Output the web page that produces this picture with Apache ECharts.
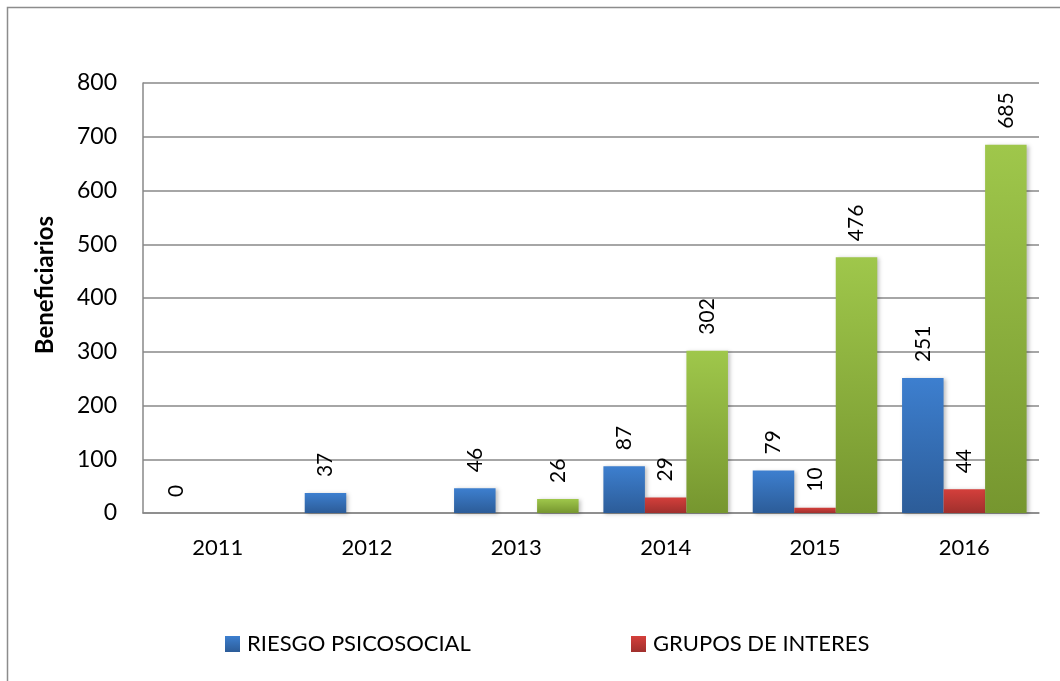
<!DOCTYPE html>
<html>
<head>
<meta charset="utf-8">
<script src="https://cdn.jsdelivr.net/npm/echarts@6/dist/echarts.min.js"></script>
<style>
  html, body { margin: 0; padding: 0; background: #fff; }
  #chart { width: 1060px; height: 681px; }
</style>
</head>
<body>
<div id="chart"></div>
<script>
// datos
var years = ['2011', '2012', '2013', '2014', '2015', '2016'];
var riesgo = [0, 37, 46, 87, 79, 251];
var grupos = [null, null, null, 29, 10, 44];
var tercera = [null, null, 26, 302, 476, 685];
var yTicks = [0, 100, 200, 300, 400, 500, 600, 700, 800];

var FONT = 'Lato, "Open Sans", sans-serif';

function grad(top, bottom) {
  return new echarts.graphic.LinearGradient(0, 0, 0, 1, [
    { offset: 0, color: top },
    { offset: 1, color: bottom }
  ]);
}

var chart = echarts.init(document.getElementById('chart'), null, { renderer: 'canvas' });

var labelCfg = {
  show: true,
  position: 'top',
  rotate: 90,
  align: 'left',
  verticalAlign: 'middle',
  distance: 16,
  fontFamily: FONT,
  fontSize: 21,
  color: '#000'
};

var shadow = {
  shadowBlur: 4,
  shadowColor: 'rgba(0,0,0,0.25)',
  shadowOffsetX: 2,
  shadowOffsetY: 1
};

var legendText = { fontFamily: FONT, fontSize: 22, color: '#000', padding: [0, 0, 0, 2] };

var option = {
  animation: false,
  textStyle: { fontFamily: FONT },
  graphic: [{
    type: 'rect',
    shape: { x: 7.5, y: 7.5, width: 1100, height: 700 },
    style: { fill: 'none', stroke: '#8c8c8c', lineWidth: 1.5 },
    silent: true
  }],
  grid: { left: 143, right: 21, top: 83, bottom: 168 },
  legend: [{
    left: 220, top: 628,
    icon: 'rect',
    itemWidth: 15, itemHeight: 16,
    textStyle: legendText,
    data: ['RIESGO PSICOSOCIAL']
  }, {
    left: 626, top: 628,
    icon: 'rect',
    itemWidth: 15, itemHeight: 16,
    textStyle: legendText,
    data: ['GRUPOS DE INTERES']
  }],
  xAxis: {
    type: 'category',
    data: years,
    axisLine: { lineStyle: { color: '#888', width: 1.5 } },
    axisTick: { show: false },
    axisLabel: { fontFamily: FONT, fontSize: 22, color: '#000', margin: 24 }
  },
  yAxis: {
    type: 'value',
    min: yTicks[0],
    max: yTicks[yTicks.length - 1],
    interval: 100,
    name: 'Beneficiarios',
    nameLocation: 'middle',
    nameRotate: 90,
    nameGap: 86,
    nameTextStyle: { fontFamily: FONT, fontSize: 24, fontWeight: 'bold', color: '#000', padding: [0, 0, 0, 26] },
    axisLine: { show: true, lineStyle: { color: '#888', width: 1.5 } },
    axisTick: { show: false },
    splitLine: { lineStyle: { color: '#888', width: 1.5 } },
    axisLabel: { fontFamily: FONT, fontSize: 23, color: '#000', margin: 26 }
  },
  series: [{
    name: 'RIESGO PSICOSOCIAL',
    type: 'bar',
    data: riesgo,
    barGap: '0%',
    barCategoryGap: '16.6%',
    itemStyle: Object.assign({ color: grad('#3d7fcf', '#2c5c98') }, shadow),
    label: labelCfg
  }, {
    name: 'GRUPOS DE INTERES',
    type: 'bar',
    data: grupos,
    itemStyle: Object.assign({ color: grad('#d43f3b', '#a0302d') }, shadow),
    label: labelCfg
  }, {
    name: 'serie3',
    type: 'bar',
    data: tercera,
    itemStyle: Object.assign({ color: grad('#9fc74b', '#76962f') }, shadow),
    label: labelCfg
  }]
};

chart.setOption(option);
</script>
</body>
</html>
